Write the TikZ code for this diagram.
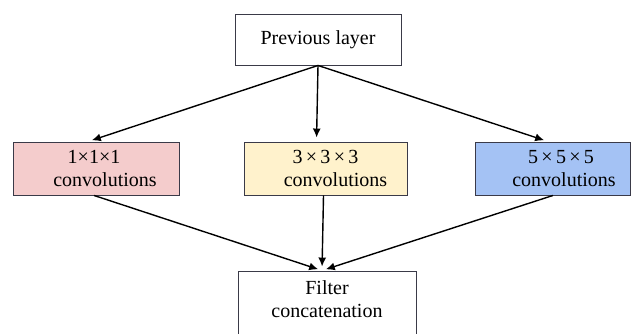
\documentclass[tikz,border=0pt]{standalone}
\usepackage{fontspec}
\setmainfont{Liberation Serif}
\usetikzlibrary{arrows.meta}
\definecolor{convred}{HTML}{F4CCCC}
\definecolor{convyellow}{HTML}{FFF2CC}
\definecolor{convblue}{HTML}{A4C2F4}
\definecolor{boxline}{HTML}{3A3A48}
\begin{document}
\begin{tikzpicture}[>={Latex[length=9pt,width=8pt]},x=1pt,y=1pt,
    layerbox/.style={draw=boxline,line width=0.9pt,minimum height=53pt,inner sep=0pt,align=center,font=\fontsize{20}{23}\selectfont},
    flow/.style={->,line width=1.4pt,shorten >=4pt}]
      \useasboundingbox (0,0) rectangle (631,334);
      \node[layerbox,minimum width=166pt,minimum height=51pt] (prev) at (318,294.5) {Previous layer};
      \node[layerbox,fill=convred,minimum width=166pt] (conv1) at (96,165.5) {\hspace*{-4pt}1\texttimes1\texttimes1\\ \hspace*{18pt}convolutions};
      \node[layerbox,fill=convyellow,minimum width=163pt] (conv3) at (325.5,165.5) {3\,\texttimes\,3\,\texttimes\,3\\ \hspace*{20pt}convolutions};
      \node[layerbox,fill=convblue,minimum width=155pt] (conv5) at (553,165.5) {\hspace*{16pt}5\,\texttimes\,5\,\texttimes\,5\\ \hspace*{22pt}convolutions};
      \node[layerbox,minimum width=178pt,minimum height=100pt,text depth=44pt] (concat) at (327,13) {Filter\\ concatenation};
      \draw[flow] (prev.south) -- ([xshift=-8pt]conv1.north);
      \draw[flow] (prev.south) -- ([xshift=-9pt]conv3.north);
      \draw[flow] (prev.south) -- ([xshift=-5pt]conv5.north);
      \draw[flow] ([xshift=-2pt]conv1.south) -- ([xshift=-5pt]concat.north);
      \draw[flow] ([xshift=-2pt]conv3.south) -- ([xshift=-5pt]concat.north);
      \draw[flow] (conv5.south) -- ([xshift=-5pt]concat.north);
    \end{tikzpicture}
\end{document}
